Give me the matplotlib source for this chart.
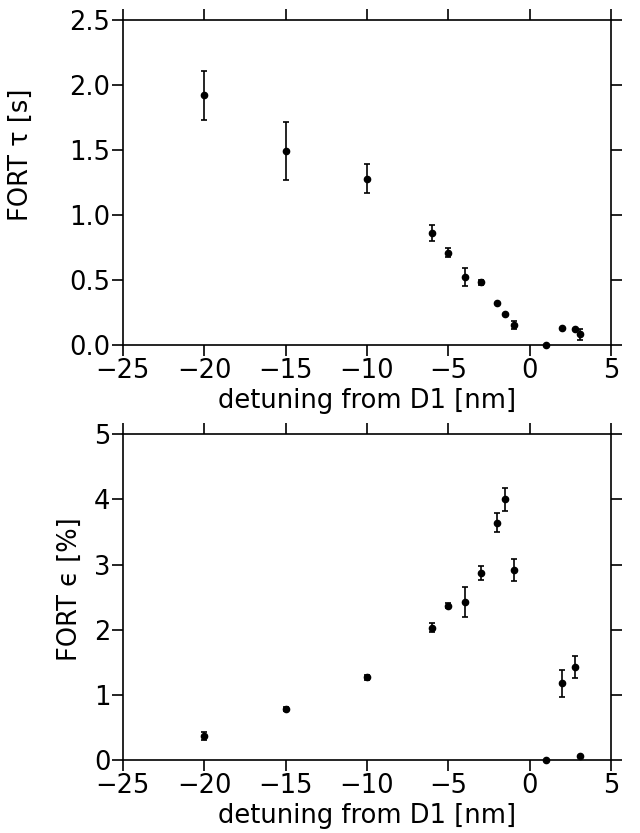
import matplotlib
matplotlib.use("Agg")
import matplotlib.pyplot as plt

# detuning from D1 [nm]
detuning = [-20, -15, -10, -6, -5, -4, -3, -2, -1.5, -1, 1, 2, 2.8, 3.1]

# FORT lifetime tau [s]
tau = [1.92, 1.49, 1.28, 0.86, 0.71, 0.52, 0.48, 0.32, 0.24, 0.15, 0.0, 0.13, 0.12, 0.08]
tau_err = [0.19, 0.225, 0.11, 0.06, 0.035, 0.068, 0.02, 0.0, 0.0, 0.03, 0.0, 0.0, 0.0, 0.043]

# FORT loss epsilon [%]
eps = [0.37, 0.78, 1.27, 2.03, 2.37, 2.42, 2.87, 3.64, 4.0, 2.92, 0.0, 1.18, 1.43, 0.06]
eps_err = [0.06, 0.03, 0.04, 0.07, 0.04, 0.23, 0.105, 0.146, 0.17, 0.164, 0.0, 0.205, 0.17, 0.0]

plt.rcParams["font.family"] = "DejaVu Sans"
FS = 18.5

fig = plt.figure(figsize=(6.4, 8.33), dpi=100)
ax1 = fig.add_axes([0.192, 0.586, 0.763, 0.390])
ax2 = fig.add_axes([0.192, 0.0876, 0.763, 0.391])


def style(ax, yticks, yfmt):
    ax.set_xlim(-25, 5)
    ax.set_xticks([-25, -20, -15, -10, -5, 0, 5])
    ax.set_xticklabels(["\u221225", "\u221220", "\u221215", "\u221210", "\u22125", "0", "5"])
    ax.set_yticks(yticks)
    ax.set_yticklabels([yfmt.format(v) for v in yticks])
    ax.set_ylim(yticks[0], yticks[-1])
    ax.tick_params(direction="out", length=8, width=1.2, top=True, right=True,
                   labelsize=FS, color="black")
    ax.tick_params(axis="x", pad=1.5)
    ax.tick_params(axis="y", pad=1)
    for s in ax.spines.values():
        s.set_linewidth(1.2)
    ax.set_xlabel("detuning from D1 [nm]", fontsize=FS, labelpad=3)


style(ax1, [0.0, 0.5, 1.0, 1.5, 2.0, 2.5], "{:.1f}")
style(ax2, [0, 1, 2, 3, 4, 5], "{:d}")

kw = dict(fmt="o", color="black", markersize=4.5, capsize=2, elinewidth=1.2,
          capthick=1.2, clip_on=False, zorder=3)
ax1.errorbar(detuning, tau, yerr=tau_err, **kw)
ax2.errorbar(detuning, eps, yerr=eps_err, **kw)

ax1.set_ylabel("FORT \u03c4 [s]", fontsize=FS)
ax1.yaxis.set_label_coords(-0.183, 0.585)
ax2.set_ylabel("FORT \u03f5 [%]", fontsize=FS)
ax2.yaxis.set_label_coords(-0.082, 0.525)

fig.savefig("out.png", dpi=100)
